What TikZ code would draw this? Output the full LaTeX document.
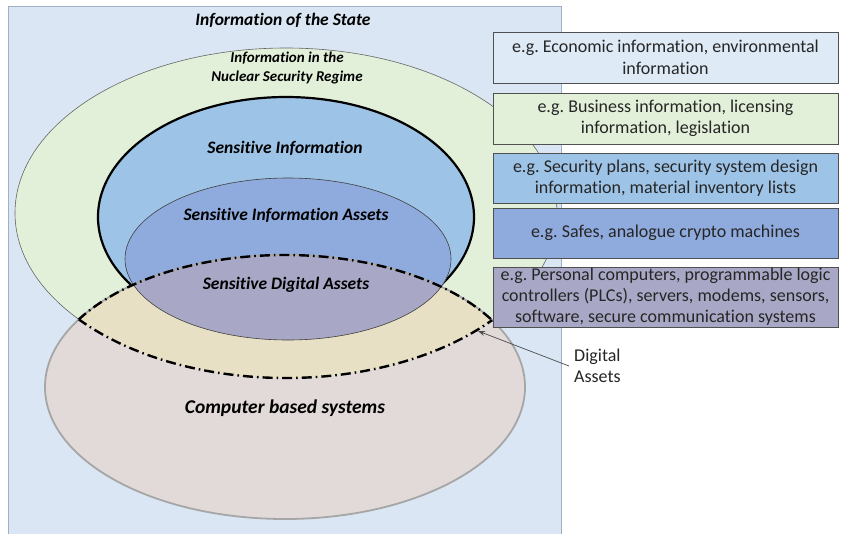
\documentclass[tikz,border=0pt]{standalone}
\usepackage{fontspec}
\setmainfont{Carlito}[Ligatures=NoCommon]
\usetikzlibrary{arrows.meta}
\definecolor{bgblue}{HTML}{DAE6F3}
\definecolor{bgedge}{HTML}{9FB0C6}
\definecolor{nsgreen}{HTML}{E2EFD9}
\definecolor{siblue}{HTML}{9DC3E6}
\definecolor{siablue}{HTML}{8FAADC}
\definecolor{sdapurple}{HTML}{A8A8C6}
\definecolor{cbsgray}{HTML}{E1DAD8}
\definecolor{cbsedge}{HTML}{A6A6A6}
\definecolor{beige}{HTML}{E8E0C4}
\definecolor{boxedge}{HTML}{505050}
\definecolor{box1}{HTML}{DEEAF6}
\tikzset{
  ttl/.style={font=\fontsize{17.5}{20}\selectfont\bfseries\itshape, text=black},
  ttlsmall/.style={font=\fontsize{15}{19}\selectfont\bfseries\itshape, align=center, text=black},
  egbox/.style={draw=boxedge, line width=0.8pt, minimum width=345pt, inner sep=0pt,
    align=center, font=\fontsize{18}{21.5}\selectfont, text=black!85},
  dashdot/.style={line width=2.4pt, black, dash pattern=on 10pt off 4pt on 1.6pt off 4pt},
}
\begin{document}
\frenchspacing
\begin{tikzpicture}[x=1pt,y=-1pt]
\useasboundingbox (0,0) rectangle (842,533);
\fill[white] (0,0) rectangle (842,533);
% background rectangle
\filldraw[fill=bgblue, draw=bgedge, line width=0.8pt] (8.5,6) rectangle (561,540);
% ellipses geometry
\def\green{(286,213) ellipse [x radius=271pt, y radius=165pt]}
\def\sie{(286,217) ellipse [x radius=188pt, y radius=120pt]}
\def\siae{(288,259) ellipse [x radius=163pt, y radius=81pt]}
\def\cbs{(285,387) ellipse [x radius=240pt, y radius=132pt]}
\filldraw[fill=nsgreen, draw=black!60, line width=0.6pt] \green;
\filldraw[fill=siblue, draw=black, line width=2.2pt] \sie;
\filldraw[fill=siablue, draw=black!75, line width=0.6pt] \siae;
\filldraw[fill=cbsgray, draw=cbsedge, line width=1.8pt] \cbs;
\begin{scope}
  \clip \green;
  \fill[beige] \cbs;
\end{scope}
\begin{scope}
  \clip \cbs;
  \filldraw[fill=sdapurple, draw=black!75, line width=0.6pt] \siae;
\end{scope}
% digital assets dash-dot outline
\begin{scope}
  \clip \green;
  \draw[cbsedge, line width=1.5pt] \cbs;
  \draw[dashdot] \cbs;
\end{scope}
\begin{scope}
  \clip \cbs;
  \draw[dashdot] \green;
\end{scope}
% titles
\node[ttl] (state) at (283,20) {Information of the State};
\node[ttlsmall] (nsr) at (287,67.5) {Information in the\\Nuclear Security Regime};
\node[ttl] (si) at (285,148) {Sensitive Information};
\node[ttl] (sia) at (286,215) {Sensitive Information Assets};
\node[ttl] (sda) at (286,285) {Sensitive Digital Assets};
\node[ttl, font=\fontsize{19.5}{22}\selectfont\bfseries\itshape] (cbs) at (285,408) {Computer based systems};
% example boxes
\node[egbox, fill=box1, minimum height=51pt] (b1) at (665.5,57.5) {e.g. Economic information, environmental\\information};
\node[egbox, fill=nsgreen, minimum height=51pt] (b2) at (665.5,118.5) {e.g. Business information, licensing\\information, legislation};
\node[egbox, fill=siblue, minimum height=50pt] (b3) at (665.5,178) {e.g. Security plans, security system design\\information, material inventory lists};
\node[egbox, fill=siablue, minimum height=50pt] (b4) at (665.5,233) {e.g. Safes, analogue crypto machines};
\node[egbox, fill=sdapurple, minimum height=60pt, font=\fontsize{18}{21}\selectfont] (b5) at (665.5,297) {e.g. Personal computers, programmable logic\\controllers (PLCs), servers, modems, sensors,\\software, secure communication systems};
% digital assets label
\node[anchor=west, align=left, inner sep=0pt, font=\fontsize{18}{21.5}\selectfont, text=black!85] (da) at (574,366) {Digital\\Assets};
\coordinate (datip) at (478,331);
\draw[black!70, line width=0.7pt, -{Stealth[length=7pt,width=5pt]}] (da.west) ++(-5,0) -- (datip);
\end{tikzpicture}
\end{document}
